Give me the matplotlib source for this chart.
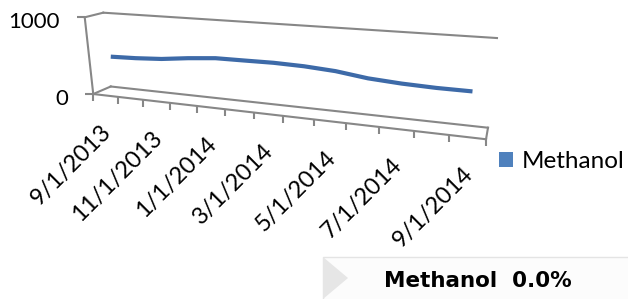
import numpy as np
import matplotlib.pyplot as plt
from matplotlib.transforms import Transform
from matplotlib.patches import Patch, Rectangle, Polygon

months = ['9/1/2013', '10/1/2013', '11/1/2013', '12/1/2013', '1/1/2014',
          '2/1/2014', '3/1/2014', '4/1/2014', '5/1/2014', '6/1/2014',
          '7/1/2014', '8/1/2014', '9/1/2014']
methanol = [470, 480, 500, 540, 570, 572, 575, 565, 540, 490, 465, 452, 450]
value_ticks = [0, 1000]
value_max = 1000
label_every = 2
series_name = 'Methanol'
summary_text = 'Methanol  0.0%'

plt.rcParams['font.family'] = ['Lato', 'DejaVu Sans']


class Persp(Transform):
    # 2D -> 2D projective transform (one plane of the 3D box seen in perspective)
    input_dims = output_dims = 2
    has_inverse = False

    def __init__(self, H):
        super().__init__()
        self.H = np.asarray(H, float)

    def transform_non_affine(self, values):
        xy = np.atleast_2d(np.asarray(values, float))
        p = np.column_stack([xy, np.ones(len(xy))]) @ self.H.T
        return p[:, :2] / p[:, 2:3]


# camera for the excel-style 3d box: unit box corners -> where they sit on the canvas
box_world = np.array([[0, 0, 0], [0, 1, 0], [1, 1, 0], [1, 0, 0],
                      [0, 0, 1], [0, 1, 1], [1, 1, 1]], float)
box_px = np.array([[93, 94.5], [111, 86], [488, 128], [486, 139],
                   [85, 17], [103, 13], [497, 38]], float)
rows = []
for (X, Y, Z), (u, v) in zip(box_world, box_px):
    h = [X, Y, Z, 1.0]
    rows.append(h + [0, 0, 0, 0] + [-u * c for c in h])
    rows.append([0, 0, 0, 0] + h + [-v * c for c in h])
cam = np.linalg.svd(np.array(rows))[2][-1].reshape(3, 4)

fig = plt.figure(figsize=(6.28, 2.99), dpi=100)
ax = fig.add_axes([0, 0, 1, 1])
ax.set_xlim(0, 628)
ax.set_ylim(299, 0)
ax.axis('off')

n = len(months)


def plane(origin, du, dv):
    M = np.column_stack([np.append(du, 0), np.append(dv, 0), np.append(origin, 1)])
    return Persp(cam @ M) + ax.transData


def value_plane(depth):
    # inputs: (category index, value)
    return plane([0.5 / n, depth, 0], [1 / n, 0, 0], [0, 0, 1 / value_max])


def side_plane(x):
    # inputs: (depth, value)
    return plane([x, 0, 0], [0, 1, 0], [0, 0, 1 / value_max])


grey = '#878787'
lw = 1.5
front, back, mid = value_plane(0), value_plane(1), value_plane(0.5)
ends = [-0.5, n - 0.5]

# floor and walls
ax.plot(ends, [0, 0], color=grey, lw=lw, transform=front)
ax.plot(ends, [0, 0], color=grey, lw=lw, transform=back)
ax.plot(ends, [value_max] * 2, color=grey, lw=lw, transform=back)
ax.plot([0, 1], [0, 0], color=grey, lw=lw, transform=side_plane(0))
ax.plot([0, 1], [0, 0], color=grey, lw=lw, transform=side_plane(1))
ax.plot([0, 1], [value_max] * 2, color=grey, lw=lw, transform=side_plane(0))

# value axis
ax.plot([-0.5, -0.5], [0, value_max], color=grey, lw=lw, transform=front)
ax.plot([-0.5] * len(value_ticks), value_ticks, ls='none', marker=0,
        ms=6, mew=lw, color=grey, transform=front)
for v in value_ticks:
    ax.annotate(str(v), xy=(-0.5, v), xycoords=front, xytext=(-25, -11),
                textcoords='offset pixels', ha='right', va='baseline',
                fontsize=16, color='black')

# category axis ticks between categories
bounds = np.arange(n + 1) - 0.5
ax.plot(bounds, np.zeros(len(bounds)), ls='none', marker=3, ms=5,
        mew=lw, color=grey, transform=front)
for i in range(0, n, label_every):
    ax.annotate(months[i], xy=(i, 0), xycoords=front, xytext=(2, -33),
                textcoords='offset pixels', rotation=45, rotation_mode='anchor',
                ha='right', va='center', fontsize=17, color='black')

# the series ribbon
ax.plot(range(n), methanol, color='#3d6aa8', lw=3, solid_capstyle='butt',
        solid_joinstyle='round', transform=mid)

fig.legend(handles=[Patch(facecolor='#4f81bd', label=series_name)],
           loc='center left', bbox_to_anchor=(499 / 628, 1 - 162 / 299),
           frameon=False, fontsize=17.5, handlelength=0.58, handleheight=0.58,
           handletextpad=0.36, borderpad=0, borderaxespad=0)

# summary box at the bottom right
ax.add_patch(Rectangle((323, 257), 310, 50, facecolor='#fcfcfc',
                       edgecolor='#e4e4e4', lw=1))
ax.add_patch(Polygon([[323, 257], [348, 278], [323, 299]], closed=True,
                     facecolor='#e6e6e6', edgecolor='none'))
ax.text(478, 281, summary_text, ha='center', va='center', fontsize=15.5,
        fontweight='bold', family='DejaVu Sans', color='black')

fig.savefig('out.png', dpi=100)
